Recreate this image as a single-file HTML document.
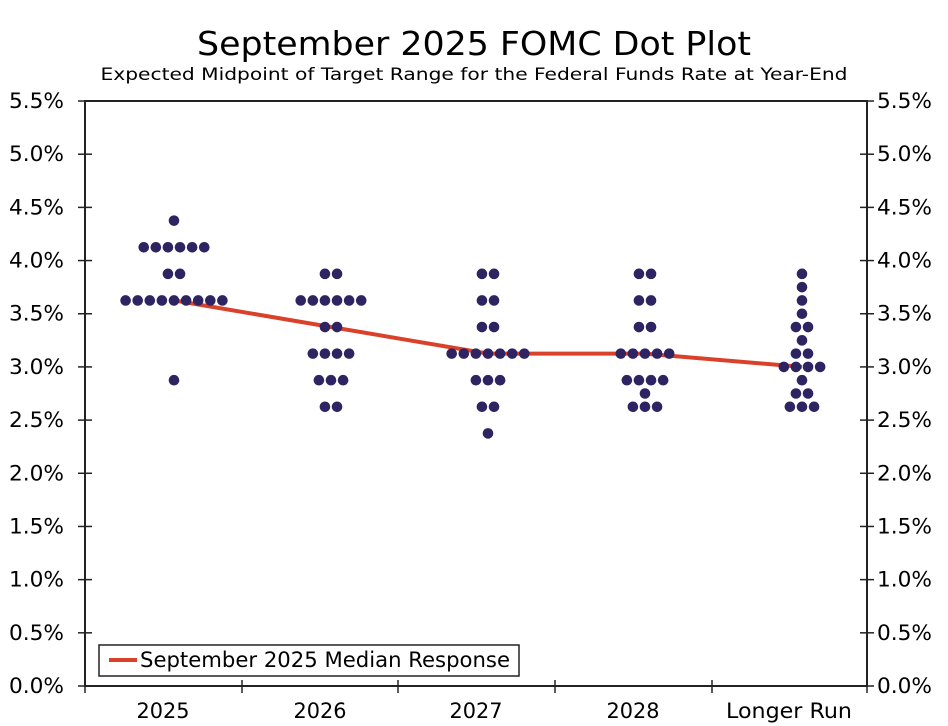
<!DOCTYPE html>
<html><head><meta charset="utf-8"><style>
html,body{margin:0;padding:0;background:#fff;}
svg{display:block;font-family:"DejaVu Sans","Liberation Sans",sans-serif;}
</style></head><body>
<svg id="c" width="948" height="726" viewBox="0 0 948 726" xmlns="http://www.w3.org/2000/svg">
<rect width="948" height="726" fill="#fff"/>
<text x="474" y="55" text-anchor="middle" font-size="33" textLength="554" lengthAdjust="spacingAndGlyphs" fill="#000">September 2025 FOMC Dot Plot</text>
<text x="474" y="80" text-anchor="middle" font-size="17" textLength="747" lengthAdjust="spacingAndGlyphs" fill="#000">Expected Midpoint of Target Range for the Federal Funds Rate at Year-End</text>
<g id="axes" stroke="#222" stroke-width="2" fill="none">
<rect x="85" y="101" width="782" height="585"/>
</g>
<g id="ticks" stroke="#222" stroke-width="1.5"></g>
<g id="labels" font-size="21" fill="#000"></g>
<polyline points="174,300.4 331,327 488,353.6 645,353.6 802,366.9" fill="none" stroke="#d9412b" stroke-width="4"/>
<g id="dots" fill="#2e2462"></g>
<rect x="99" y="645" width="420" height="31" fill="#fff" stroke="#222" stroke-width="1.5"/>
<line x1="109" y1="660" x2="137" y2="660" stroke="#d9412b" stroke-width="4"/>
<text x="140" y="667" font-size="21" textLength="370" lengthAdjust="spacingAndGlyphs" fill="#000">September 2025 Median Response</text>
</svg>
<script>
const NS="http://www.w3.org/2000/svg";
const Y=v=>686-v*106.36;
const tk=document.getElementById('ticks'),lb=document.getElementById('labels'),dg=document.getElementById('dots');
function el(p,t,a,txt){const e=document.createElementNS(NS,t);for(const k in a)e.setAttribute(k,a[k]);if(txt)e.textContent=txt;p.appendChild(e);}
for(let i=0;i<=11;i++){const v=i*0.5,y=Y(v);
el(tk,'line',{x1:78,x2:92,y1:y,y2:y});el(tk,'line',{x1:860,x2:874,y1:y,y2:y});
el(lb,'text',{x:64,y:y+7,'text-anchor':'end',textLength:55,lengthAdjust:'spacingAndGlyphs'},v.toFixed(1)+'%');
el(lb,'text',{x:877,y:y+7,textLength:55,lengthAdjust:'spacingAndGlyphs'},v.toFixed(1)+'%');}
[85,242,398,555,712,867].forEach(x=>el(tk,'line',{x1:x,x2:x,y1:680,y2:693}));
[['2025',163,53],['2026',320,53],['2027',476,53],['2028',633,53],['Longer Run',789,126]].forEach(([t,x,w])=>el(lb,'text',{x:x-w/2,y:718,textLength:w,lengthAdjust:'spacingAndGlyphs'},t));
const data={174:{4.375:1,4.125:6,3.875:2,3.625:9,2.875:1},
331:{3.875:2,3.625:6,3.375:2,3.125:4,2.875:3,2.625:2},
488:{3.875:2,3.625:2,3.375:2,3.125:7,2.875:3,2.625:2,2.375:1},
645:{3.875:2,3.625:2,3.375:2,3.125:5,2.875:4,2.75:1,2.625:3},
802:{3.875:1,3.75:1,3.625:1,3.5:1,3.375:2,3.25:1,3.125:2,3.0:4,2.875:1,2.75:2,2.625:3}};
for(const cx in data){for(const v in data[cx]){const n=data[cx][v];for(let i=0;i<n;i++){
el(dg,'circle',{cx:+cx+(i-(n-1)/2)*12.1,cy:Y(+v),r:5.3});}}}
</script>
</body></html>
